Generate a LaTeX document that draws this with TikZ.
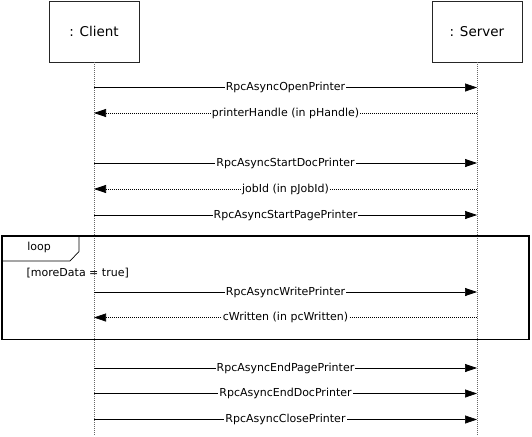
\documentclass[tikz,border=0pt]{standalone}
\usepackage{fontspec}
\setmainfont{DejaVu Sans}
\usetikzlibrary{arrows.meta}

\begin{document}
\begin{tikzpicture}[
        x=1pt, y=-1pt,
        actor/.style={rectangle, draw=black!85, line width=0.8pt, minimum width=90pt, minimum height=61pt, font=\fontsize{13.5}{16}\selectfont},
        lifeline/.style={draw=black!60, dash pattern=on 1pt off 1pt, line width=0.6pt},
        call/.style={draw=black, line width=0.7pt, -{Triangle[length=12pt,width=8pt]}},
        reply/.style={call, dash pattern=on 1.2pt off 0.8pt},
        msg_label/.style={fill=white, inner sep=1pt, font=\fontsize{11}{13}\selectfont, midway},
        frame_label/.style={font=\fontsize{11}{13}\selectfont}
    ]
        \useasboundingbox (0,0) rectangle (532,436);

        % Participants and their lifelines
        \node[actor] (client) at (94,31.5) {: Client};
        \node[actor] (server) at (477,31.5) {: Server};
        \coordinate (client_end) at (94,436);
        \coordinate (server_end) at (477,436);
        \draw[lifeline] (client) -- (client_end);
        \draw[lifeline] (server) -- (server_end);

        % Points on the lifelines, one per message
        \coordinate (c1) at (94,87.5);   \coordinate (s1) at (477,87.5);
        \coordinate (c2) at (94,113);    \coordinate (s2) at (477,113);
        \coordinate (c3) at (94,163);    \coordinate (s3) at (477,163);
        \coordinate (c4) at (94,189);    \coordinate (s4) at (477,189);
        \coordinate (c5) at (94,215);    \coordinate (s5) at (477,215);
        \coordinate (c6) at (94,292);    \coordinate (s6) at (477,292);
        \coordinate (c7) at (94,317.5);  \coordinate (s7) at (477,317.5);
        \coordinate (c8) at (94,368);    \coordinate (s8) at (477,368);
        \coordinate (c9) at (94,393.5);  \coordinate (s9) at (477,393.5);
        \coordinate (c10) at (94,419.5); \coordinate (s10) at (477,419.5);

        % Open the printer and start the job
        \draw[call] (c1) -- (s1) node[msg_label] {RpcAsyncOpenPrinter};
        \draw[reply] (s2) -- (c2) node[msg_label] {printerHandle (in pHandle)};
        \draw[call] (c3) -- (s3) node[msg_label] {RpcAsyncStartDocPrinter};
        \draw[reply] (s4) -- (c4) node[msg_label] {jobId (in pJobId)};
        \draw[call] (c5) -- (s5) node[msg_label] {RpcAsyncStartPagePrinter};

        % Loop frame with its tab
        \draw[line width=1.4pt] (2,236) rectangle (529,339.5);
        \draw[line width=0.7pt] (2,261) -- (70,261) -- (79,251.5) -- (79,236);
        \node[frame_label] (loop_tag) at (39,247.5) {loop};
        \node[frame_label, anchor=west, inner sep=0pt] (guard) at (26.5,273.5) {[moreData = true]};

        \draw[call] (c6) -- (s6) node[msg_label] {RpcAsyncWritePrinter};
        \draw[reply] (s7) -- (c7) node[msg_label] {cWritten (in pcWritten)};

        % Finish the page, the document and close
        \draw[call] (c8) -- (s8) node[msg_label] {RpcAsyncEndPagePrinter};
        \draw[call] (c9) -- (s9) node[msg_label] {RpcAsyncEndDocPrinter};
        \draw[call] (c10) -- (s10) node[msg_label] {RpcAsyncClosePrinter};

    \end{tikzpicture}
\end{document}
